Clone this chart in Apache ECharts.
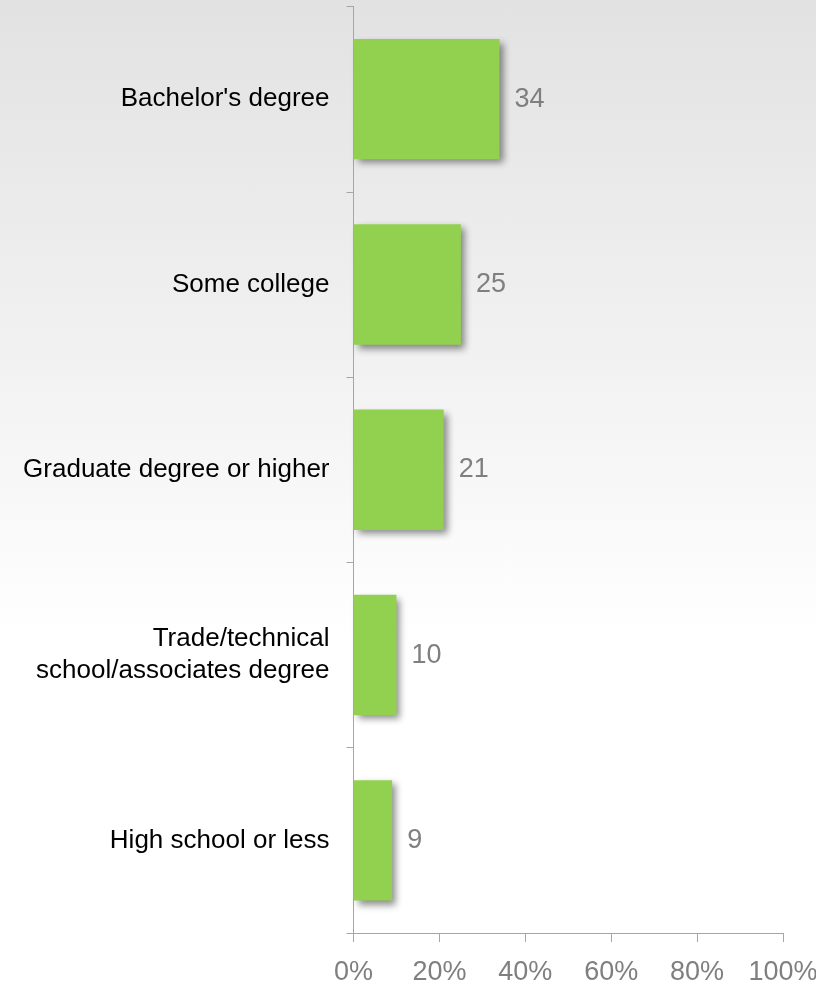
<!DOCTYPE html>
<html>
<head>
<meta charset="utf-8">
<script src="https://cdn.jsdelivr.net/npm/echarts@6/dist/echarts.min.js"></script>
<style>
  html, body { margin: 0; padding: 0; }
  #chart {
    width: 816px;
    height: 983px;
    background: linear-gradient(to bottom, #e2e2e2 0%, #f3f3f3 40%, #ffffff 65%, #ffffff 100%);
  }
</style>
</head>
<body>
<div id="chart"></div>
<script>
// categories top to bottom
const categories = [
  'Bachelor\'s degree',
  'Some college',
  'Graduate degree or higher',
  'Trade/technical\nschool/associates degree',
  'High school or less'
]
const values = [34, 25, 21, 10, 9]
const xTicks = [0, 20, 40, 60, 80, 100]

const chart = echarts.init(document.getElementById('chart'))

const axisColor = '#a6a6a6'

chart.setOption({
  animation: false,
  textStyle: { fontFamily: 'Liberation Sans, Arial, sans-serif' },
  grid: {
    left: 353.5, right: 33, top: 6.5, bottom: 50,
    containLabel: false,
    outerBoundsMode: 'none' // keep the plot where it is, labels may touch the edge
  },
  xAxis: {
    type: 'value',
    min: xTicks[0],
    max: xTicks[xTicks.length - 1],
    interval: 20,
    axisLine: { show: true, lineStyle: { color: axisColor, width: 1 } },
    axisTick: { show: true, length: 9, lineStyle: { color: axisColor } },
    axisLabel: { color: '#7f7f7f', fontSize: 27, margin: 26, formatter: v => v + '%' },
    splitLine: { show: false }
  },
  yAxis: {
    type: 'category',
    inverse: true,
    data: categories,
    axisLine: { show: true, lineStyle: { color: axisColor, width: 1 } },
    axisTick: { show: true, length: 7, lineStyle: { color: axisColor } },
    axisLabel: { color: '#000', fontSize: 26, margin: 24, align: 'right', lineHeight: 32 }
  },
  series: [
    {
      type: 'bar',
      data: values,
      barWidth: '65%',
      itemStyle: {
        color: '#92d050',
        shadowColor: 'rgba(0,0,0,0.45)',
        shadowBlur: 7,
        shadowOffsetX: 4,
        shadowOffsetY: 4
      },
      label: {
        show: true,
        position: 'right',
        distance: 15,
        color: '#7f7f7f',
        fontSize: 27
      }
    }
  ]
})
</script>
</body>
</html>
